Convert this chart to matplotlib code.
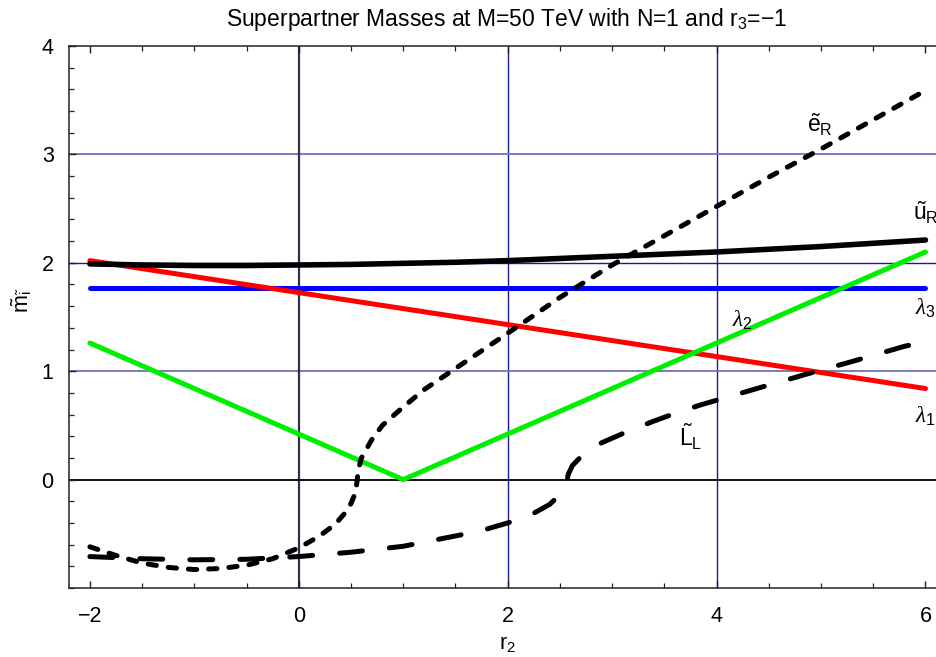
import matplotlib
matplotlib.use("Agg")
import matplotlib.pyplot as plt
from matplotlib.ticker import MultipleLocator

plt.rcParams['font.family'] = ['Liberation Sans', 'DejaVu Sans']
plt.rcParams['mathtext.fontset'] = 'custom'
plt.rcParams['mathtext.rm'] = 'Liberation Sans'
plt.rcParams['mathtext.it'] = 'Liberation Serif:italic'
plt.rcParams['lines.scale_dashes'] = False

# ---- data ----
x_uR = [-2, -1.5, -1, -0.5, 0, 0.5, 1, 1.5, 2, 2.5, 3, 3.5, 4, 4.5, 5, 5.5, 6]
y_uR = [1.99, 1.98, 1.975, 1.975, 1.98, 1.985, 1.995, 2.005, 2.02, 2.04, 2.06, 2.08, 2.10, 2.125, 2.15, 2.18, 2.21]

x_lam3 = [-2, 6]
y_lam3 = [1.77, 1.77]

x_lam1 = [-2, 6]
y_lam1 = [2.02, 0.84]

x_lam2 = [-2, 1, 6]
y_lam2 = [1.26, 0.0, 2.10]

x_eR = [-2, -1.75, -1.5, -1.25, -1, -0.75, -0.5, -0.25, 0, 0.2, 0.35, 0.45, 0.5, 0.53, 0.55, 0.56,
        0.57, 0.6, 0.7, 0.8, 1.0, 1.2, 1.4, 1.6, 1.8, 2.0, 2.5, 3.0, 3.5, 4.0, 4.5, 5.0, 5.5, 6.0]
y_eR = [-0.62, -0.70, -0.77, -0.81, -0.83, -0.82, -0.79, -0.73, -0.63, -0.52, -0.41, -0.30, -0.22, -0.15, -0.07, 0.0,
        0.09, 0.20, 0.37, 0.50, 0.67, 0.83, 0.96, 1.09, 1.22, 1.35, 1.68, 1.98, 2.25, 2.52, 2.79, 3.05, 3.32, 3.59]

x_LL = [-2, -1.5, -1, -0.5, 0, 0.5, 1.0, 1.5, 1.75, 2.0, 2.25, 2.4, 2.5, 2.55, 2.57,
        2.58, 2.62, 2.7, 2.9, 3.15, 3.4, 3.6, 3.85, 4.35, 4.85, 5.3, 5.8, 6.0]
y_LL = [-0.71, -0.73, -0.74, -0.735, -0.71, -0.67, -0.615, -0.52, -0.47, -0.40, -0.31, -0.23, -0.14, -0.07, 0.0,
        0.05, 0.13, 0.21, 0.34, 0.445, 0.54, 0.61, 0.69, 0.83, 0.97, 1.09, 1.23, 1.27]

xticks = [-2, 0, 2, 4, 6]
xticklabels = ['\u22122', '0', '2', '4', '6']
yticks = [0, 1, 2, 3, 4]
yticklabels = ['0', '1', '2', '3', '4']

title = 'Superpartner Masses at M=50 TeV with N=1 and r$_3$=\u22121'

# ---- figure ----
fig = plt.figure(figsize=(9.37, 6.57), dpi=100)
ax = fig.add_axes([69/937, 69/657, 1 - 69/937 + 0.01, (588-46)/657])
ax.set_xlim(-2.2, 6.2)
ax.set_ylim(-1.0, 4.0)

# grid lines
for gx in [2, 4]:
    ax.axvline(gx, color='#1a1a99', lw=1.0, zorder=1)
for gy in [1, 3]:
    ax.axhline(gy, color='#7272b4', lw=1.3, zorder=1)
ax.axhline(2, color='#1a1a99', lw=1.0, zorder=1)
ax.axvline(0, color='#2e2e50', lw=1.6, zorder=1.5)
ax.axhline(0, color='black', lw=1.3, zorder=1.5)

lw = 3.6
ax.plot(x_lam3, y_lam3, color='#0000ff', lw=lw, solid_capstyle='round', zorder=3)
ax.plot(x_lam1, y_lam1, color='#ff0000', lw=lw, solid_capstyle='round', zorder=3)
ax.plot(x_lam2, y_lam2, color='#00ee00', lw=lw, solid_capstyle='round', solid_joinstyle='round', zorder=3)
ax.plot(x_uR, y_uR, color='black', lw=4.0, solid_capstyle='round', zorder=3)
ax.plot(x_eR, y_eR, color='black', lw=lw, linestyle=(0, (6.0, 8.6)), dash_capstyle='round', zorder=4)
ax.plot(x_LL, y_LL, color='black', lw=lw, linestyle=(0, (16.5, 19.5)), dash_capstyle='round', zorder=4)

# curve labels
lab_fs = 16.5
ax.text(4.99, 3.27, r'$\tilde{\mathrm{e}}_{\mathrm{R}}$', fontsize=lab_fs, ha='center', va='center')
ax.text(6.0, 2.46, r'$\tilde{\mathrm{u}}_{\mathrm{R}}$', fontsize=lab_fs, ha='center', va='center')
ax.text(6.0, 1.58, r'$\lambda_{\mathrm{3}}$', fontsize=lab_fs, ha='center', va='center')
ax.text(4.25, 1.47, r'$\lambda_{\mathrm{2}}$', fontsize=lab_fs, ha='center', va='center')
ax.text(6.0, 0.58, r'$\lambda_{\mathrm{1}}$', fontsize=lab_fs, ha='center', va='center')
ax.text(3.75, 0.39, r'$\tilde{\mathrm{L}}_{\mathrm{L}}$', fontsize=lab_fs, ha='center', va='center')

# ticks
ax.set_xticks(xticks)
ax.set_xticklabels(xticklabels)
ax.set_yticks(yticks)
ax.set_yticklabels(yticklabels)
ax.xaxis.set_minor_locator(MultipleLocator(0.5))
ax.yaxis.set_minor_locator(MultipleLocator(0.2))
ax.tick_params(which='both', direction='in', top=True, right=False, labelsize=15.5, color='#222222')
ax.tick_params(which='major', length=5, width=1)
ax.tick_params(which='minor', length=3.5, width=0.9)
ax.tick_params(axis='x', pad=13)
ax.tick_params(axis='y', pad=11)

for s in ['left', 'bottom', 'top']:
    ax.spines[s].set_color('#222222')
    ax.spines[s].set_linewidth(1.1)
ax.spines['right'].set_visible(False)

ax.set_xlabel(r'r$_2$', fontsize=15.5, va='center')
ax.xaxis.set_label_coords(0.5, -0.103)
ax.set_ylabel(r'$\tilde{\mathrm{m}}_{\tilde{\mathrm{i}}}$', fontsize=15.5, va='center')
ax.yaxis.set_label_coords(-0.054, 0.53)
fig.text(0.5406, 0.9696, title, fontsize=16.5, ha='center', va='center')

fig.savefig('out.png', dpi=100)
